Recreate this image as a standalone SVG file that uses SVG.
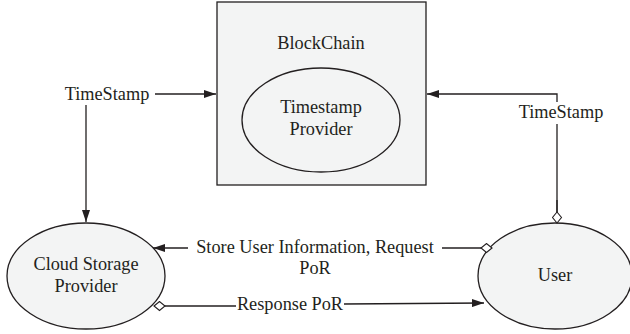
<svg xmlns="http://www.w3.org/2000/svg" width="630" height="334" viewBox="0 0 630 334">
<style>
.shape{fill:#f3f4f4;stroke:#231f20;stroke-width:1.3}
.line{fill:none;stroke:#231f20;stroke-width:1.3}
text{font-family:"Liberation Serif","Times New Roman",serif;font-size:18.3px;fill:#231f20;text-anchor:middle}
</style>
<defs>
<marker id="arrow" markerUnits="userSpaceOnUse" viewBox="0 0 12 8" markerWidth="12" markerHeight="8" refX="12" refY="4" orient="auto">
<path d="M0,0 L12,4 L0,8 z" fill="#231f20"/>
</marker>
<marker id="diamond" markerUnits="userSpaceOnUse" viewBox="-1 -1 13 11" markerWidth="13" markerHeight="11" refX="0" refY="4.5" orient="auto">
<path d="M0,4.5 L5.5,0 L11,4.5 L5.5,9 z" fill="#fff" stroke="#231f20" stroke-width="1.1"/>
</marker>
</defs>
<g id="blockchain">
<rect class="shape" x="217" y="2" width="209" height="183"/>
<text x="321" y="49">BlockChain</text>
</g>
<g id="timestamp-provider">
<ellipse class="shape" cx="321" cy="120" rx="79" ry="52"/>
<text x="321" y="113">Timestamp</text>
<text x="321" y="135">Provider</text>
</g>
<g id="cloud-storage-provider">
<ellipse class="shape" cx="86" cy="276" rx="79" ry="53"/>
<text x="86" y="270">Cloud Storage</text>
<text x="86" y="292">Provider</text>
</g>
<g id="user">
<ellipse class="shape" cx="555" cy="276" rx="77" ry="53"/>
<text x="555" y="281">User</text>
</g>
<g id="connectors">
<line class="line" x1="155" y1="94" x2="216" y2="94" marker-end="url(#arrow)"/>
<line class="line" x1="86" y1="105" x2="86" y2="222" marker-end="url(#arrow)"/>
<text x="107" y="100">TimeStamp</text>
<polyline class="line" points="557,223 557,124"/>
<polyline class="line" points="557,102 557,94 427,94" marker-end="url(#arrow)"/>
<line class="line" x1="557" y1="223" x2="557" y2="200" marker-start="url(#diamond)"/>
<text x="561" y="118">TimeStamp</text>
<line class="line" x1="492" y1="248" x2="442" y2="248" marker-start="url(#diamond)"/>
<line class="line" x1="188" y1="248" x2="153" y2="248" marker-end="url(#arrow)"/>
<text x="315" y="253">Store User Information, Request</text>
<text x="315" y="274">PoR</text>
<line class="line" x1="154" y1="306" x2="236" y2="306" marker-start="url(#diamond)"/>
<line class="line" x1="344" y1="304" x2="484" y2="303" marker-end="url(#arrow)"/>
<text x="290" y="310">Response PoR</text>
</g>
</svg>
